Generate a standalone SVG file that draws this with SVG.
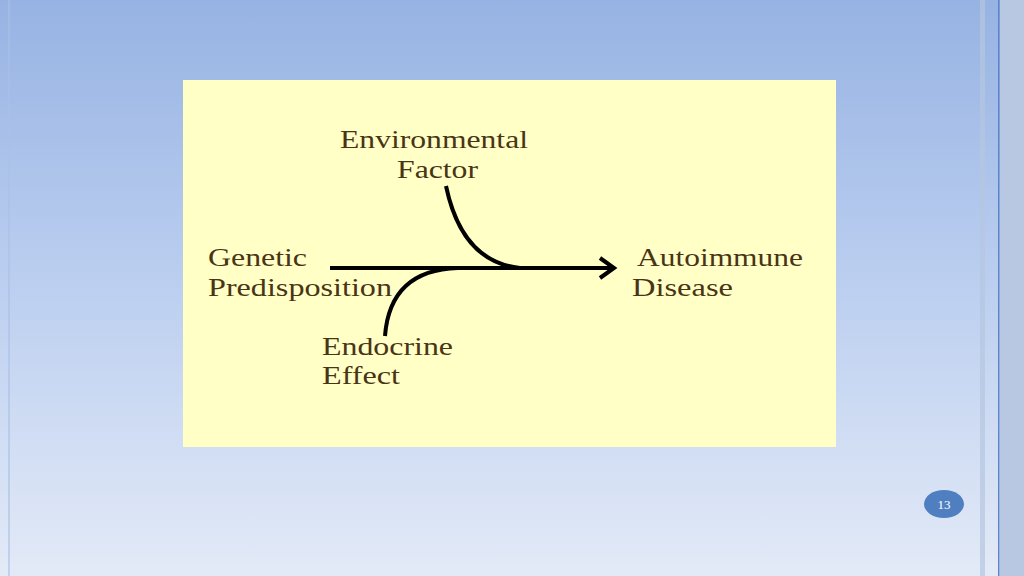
<svg xmlns="http://www.w3.org/2000/svg" width="1024" height="576" viewBox="0 0 1024 576">
<defs>
<linearGradient id="bg" x1="0" y1="0" x2="0" y2="1">
<stop offset="0" stop-color="#97b3e3"/><stop offset="0.5" stop-color="#bccff0"/><stop offset="1" stop-color="#e3eaf7"/>
</linearGradient>
<style>
.t{font-family:"Liberation Serif",serif;font-size:25px;fill:#4a3416}
.c{fill:none;stroke:#000;stroke-width:4}
</style>
</defs>
<rect width="1024" height="576" fill="url(#bg)"/>
<rect x="980" y="0" width="5" height="576" fill="#b5c6e0" opacity="0.7"/>
<rect x="998" y="0" width="1.5" height="576" fill="#5b84c9"/>
<rect x="1000" y="0" width="24" height="576" fill="#b9c8e2"/>
<rect x="8" y="0" width="2" height="576" fill="#aac0e6" opacity="0.6"/>
<g id="panel"><rect x="183" y="80" width="653" height="367" fill="#ffffc6"/></g>
<g id="connectors">
<path class="c" d="M330 268 H612"/>
<path class="c" d="M600 258 L614 268 L600 278"/>
<path class="c" d="M446 186 Q462 262 520 268"/>
<path class="c" d="M458 268 Q390 270 385 336"/>
</g>
<g id="env"><text class="t" x="340" y="148" textLength="188" lengthAdjust="spacingAndGlyphs">Environmental</text><text class="t" x="397" y="178" textLength="81" lengthAdjust="spacingAndGlyphs">Factor</text></g>
<g id="gen"><text class="t" x="208" y="266" textLength="99" lengthAdjust="spacingAndGlyphs">Genetic</text><text class="t" x="208" y="296" textLength="184" lengthAdjust="spacingAndGlyphs">Predisposition</text></g>
<g id="auto"><text class="t" x="637" y="266" textLength="166" lengthAdjust="spacingAndGlyphs">Autoimmune</text><text class="t" x="632" y="296" textLength="101" lengthAdjust="spacingAndGlyphs">Disease</text></g>
<g id="endo"><text class="t" x="322" y="355" textLength="131" lengthAdjust="spacingAndGlyphs">Endocrine</text><text class="t" x="322" y="384" textLength="78" lengthAdjust="spacingAndGlyphs">Effect</text></g>
<g id="page"><ellipse cx="944" cy="504" rx="20" ry="14" fill="#4f7fc0"/><text x="944" y="509" text-anchor="middle" font-family="Liberation Serif,serif" font-size="13" fill="#fff">13</text></g>
</svg>
